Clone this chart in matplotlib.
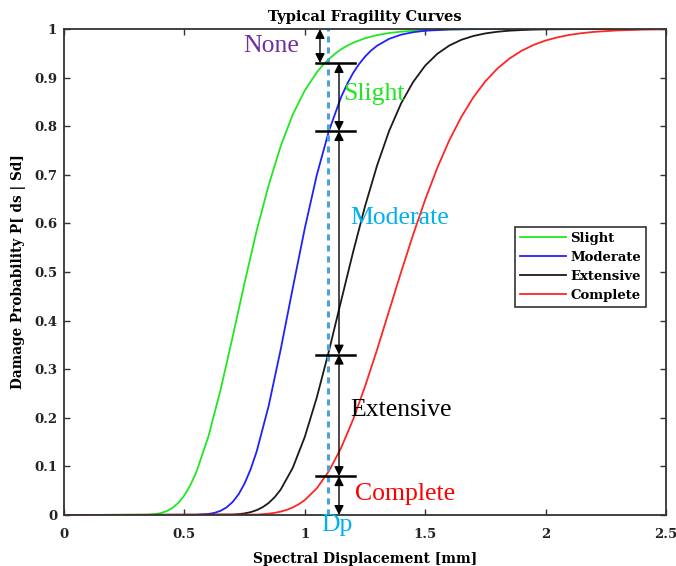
import matplotlib.pyplot as plt

# values
slight_x = [0, 0.35, 0.375, 0.4, 0.425, 0.45, 0.475, 0.5, 0.525, 0.55, 0.6, 0.65, 0.7, 0.75,
            0.8, 0.85, 0.9, 0.95, 1.0, 1.05, 1.075, 1.1, 1.125, 1.15, 1.175, 1.2, 1.25, 1.3,
            1.35, 1.4, 1.45, 1.5, 1.6, 1.7, 1.8, 2.5]
slight_y = [0, 0.0006, 0.0016, 0.0037, 0.0077, 0.0145, 0.0251, 0.0405, 0.0616, 0.0889, 0.1623,
            0.2573, 0.3658, 0.478, 0.585, 0.679, 0.759, 0.824, 0.8735, 0.911, 0.9258, 0.938,
            0.9489, 0.958, 0.9653, 0.9715, 0.9809, 0.9874, 0.9917, 0.9945, 0.9964, 0.9977,
            0.999, 0.9996, 1.0, 1.0]

moderate_x = [0, 0.55, 0.6, 0.625, 0.65, 0.675, 0.7, 0.725, 0.75, 0.775, 0.8, 0.85, 0.9, 0.95,
              1.0, 1.05, 1.1, 1.15, 1.175, 1.2, 1.225, 1.25, 1.275, 1.3, 1.35, 1.4, 1.45, 1.5,
              1.6, 1.7, 1.8, 2.5]
moderate_y = [0, 0.0003, 0.0021, 0.0044, 0.0086, 0.0157, 0.0266, 0.0426, 0.0649, 0.0941, 0.1306,
              0.2247, 0.341, 0.467, 0.590, 0.700, 0.790, 0.859, 0.886, 0.909, 0.9276, 0.943,
              0.9555, 0.9655, 0.9797, 0.9883, 0.9934, 0.9964, 0.999, 0.9997, 1.0, 1.0]

extensive_x = [0, 0.7, 0.725, 0.75, 0.775, 0.8, 0.825, 0.85, 0.875, 0.9, 0.95, 1.0, 1.05, 1.1,
               1.15, 1.2, 1.25, 1.3, 1.35, 1.4, 1.45, 1.5, 1.55, 1.6, 1.65, 1.7, 1.75, 1.8,
               1.85, 1.9, 1.95, 2.0, 2.2, 2.5]
extensive_y = [0, 0.0009, 0.0018, 0.0033, 0.0059, 0.0100, 0.0161, 0.0248, 0.0367, 0.0524, 0.0971,
               0.1608, 0.2423, 0.337, 0.439, 0.540, 0.635, 0.719, 0.790, 0.847, 0.891, 0.9246,
               0.9488, 0.9659, 0.9777, 0.9856, 0.9909, 0.9943, 0.9965, 0.9978, 0.9987, 0.9992,
               1.0, 1.0]

complete_x = [0, 0.8, 0.825, 0.85, 0.875, 0.9, 0.925, 0.95, 0.975, 1.0, 1.05, 1.1, 1.15, 1.2,
              1.25, 1.3, 1.35, 1.4, 1.45, 1.5, 1.55, 1.6, 1.65, 1.7, 1.75, 1.8, 1.85, 1.9,
              1.95, 2.0, 2.05, 2.1, 2.15, 2.2, 2.3, 2.4, 2.5]
complete_y = [0, 0.0009, 0.0017, 0.0028, 0.0045, 0.0070, 0.0106, 0.0156, 0.0222, 0.0308, 0.055,
              0.0901, 0.1372, 0.1958, 0.2643, 0.340, 0.420, 0.5, 0.577, 0.649, 0.714, 0.771,
              0.819, 0.8595, 0.8924, 0.9187, 0.9392, 0.9551, 0.9672, 0.9763, 0.9829, 0.9879,
              0.9914, 0.994, 0.9971, 0.9986, 0.9994]

dp = 1.098
state_levels = [1.0, 0.93, 0.79, 0.33, 0.08, 0.0]
state_names = ["None", "Slight", "Moderate", "Extensive", "Complete"]
state_colors = ["#7030a0", "#22e622", "#00b0f0", "black", "#ff0000"]

lab_font = dict(family="DejaVu Serif", weight="bold")

fig = plt.figure(figsize=(6.76, 5.66), dpi=100)
ax = fig.add_axes([0.0947, 0.0901, 0.8905, 0.8587])

ax.plot(slight_x, slight_y, color="#22e622", lw=1.3, label="Slight")
ax.plot(moderate_x, moderate_y, color="#2020ff", lw=1.3, label="Moderate")
ax.plot(extensive_x, extensive_y, color="#1a1a1a", lw=1.3, label="Extensive")
ax.plot(complete_x, complete_y, color="#ff2525", lw=1.3, label="Complete")

# Dp line
ax.plot([dp, dp], [0, 1], color="#4ea0d8", lw=2.2, dashes=(2, 1.6))

# damage state bars and arrows
for lev in state_levels[1:-1]:
    ax.plot([1.047, 1.208], [lev, lev], color="black", lw=1.8)

arr = dict(arrowstyle="<|-|>", color="black", lw=1, mutation_scale=14, shrinkA=0, shrinkB=0)
ax.annotate("", xy=(1.063, state_levels[0]), xytext=(1.063, state_levels[1]), arrowprops=arr)
for i in range(1, len(state_levels) - 1):
    ax.annotate("", xy=(1.142, state_levels[i]), xytext=(1.142, state_levels[i + 1]), arrowprops=arr)

ann_x = [0.743, 1.159, 1.188, 1.188, 1.208]
ann_y = [0.965, 0.866, 0.611, 0.216, 0.043]
for name, col, tx, ty in zip(state_names, state_colors, ann_x, ann_y):
    ax.text(tx, ty, name, color=col, fontsize=18.5, family="Liberation Serif",
            ha="left", va="center")
ax.text(dp + 0.035, -0.02, "Dp", color="#00b0f0", fontsize=18.5, family="Liberation Serif",
        ha="center", va="center", clip_on=False)

ax.set_xlim(0, 2.5)
ax.set_ylim(0, 1)
ax.set_xticks([0, 0.5, 1, 1.5, 2, 2.5])
ax.set_xticklabels(["0", "0.5", "1", "1.5", "2", "2.5"])
ax.set_yticks([i / 10 for i in range(11)])
ax.set_yticklabels(["0", "0.1", "0.2", "0.3", "0.4", "0.5", "0.6", "0.7", "0.8", "0.9", "1"])
ax.tick_params(direction="in", top=True, right=True, length=4, width=1, colors="#333333",
               labelcolor="#222222")
ax.tick_params(axis="x", pad=9)
ax.tick_params(axis="y", pad=5)
for t in ax.get_xticklabels() + ax.get_yticklabels():
    t.set_fontfamily("DejaVu Serif")
    t.set_fontweight("bold")
    t.set_fontsize(9.5)
for s in ax.spines.values():
    s.set_color("#333333")
    s.set_linewidth(1.3)

ax.set_title("Typical Fragility Curves", fontsize=10.5, pad=6, **lab_font)
ax.set_xlabel("Spectral Displacement [mm]", fontsize=10, labelpad=8, **lab_font)
ax.set_ylabel("Damage Probability P[ ds | Sd]", fontsize=9.8, labelpad=6, **lab_font)

leg = ax.legend(loc="upper left", bbox_to_anchor=(0.749, 0.593), borderaxespad=0,
                prop=dict(family="DejaVu Serif", weight="bold", size=9.5),
                handlelength=3.5, handletextpad=0.3, labelspacing=0.45, borderpad=0.4,
                fancybox=False, framealpha=1)
leg.get_frame().set_edgecolor("#333333")
leg.get_frame().set_linewidth(1.2)

fig.savefig("out.png", dpi=100)
